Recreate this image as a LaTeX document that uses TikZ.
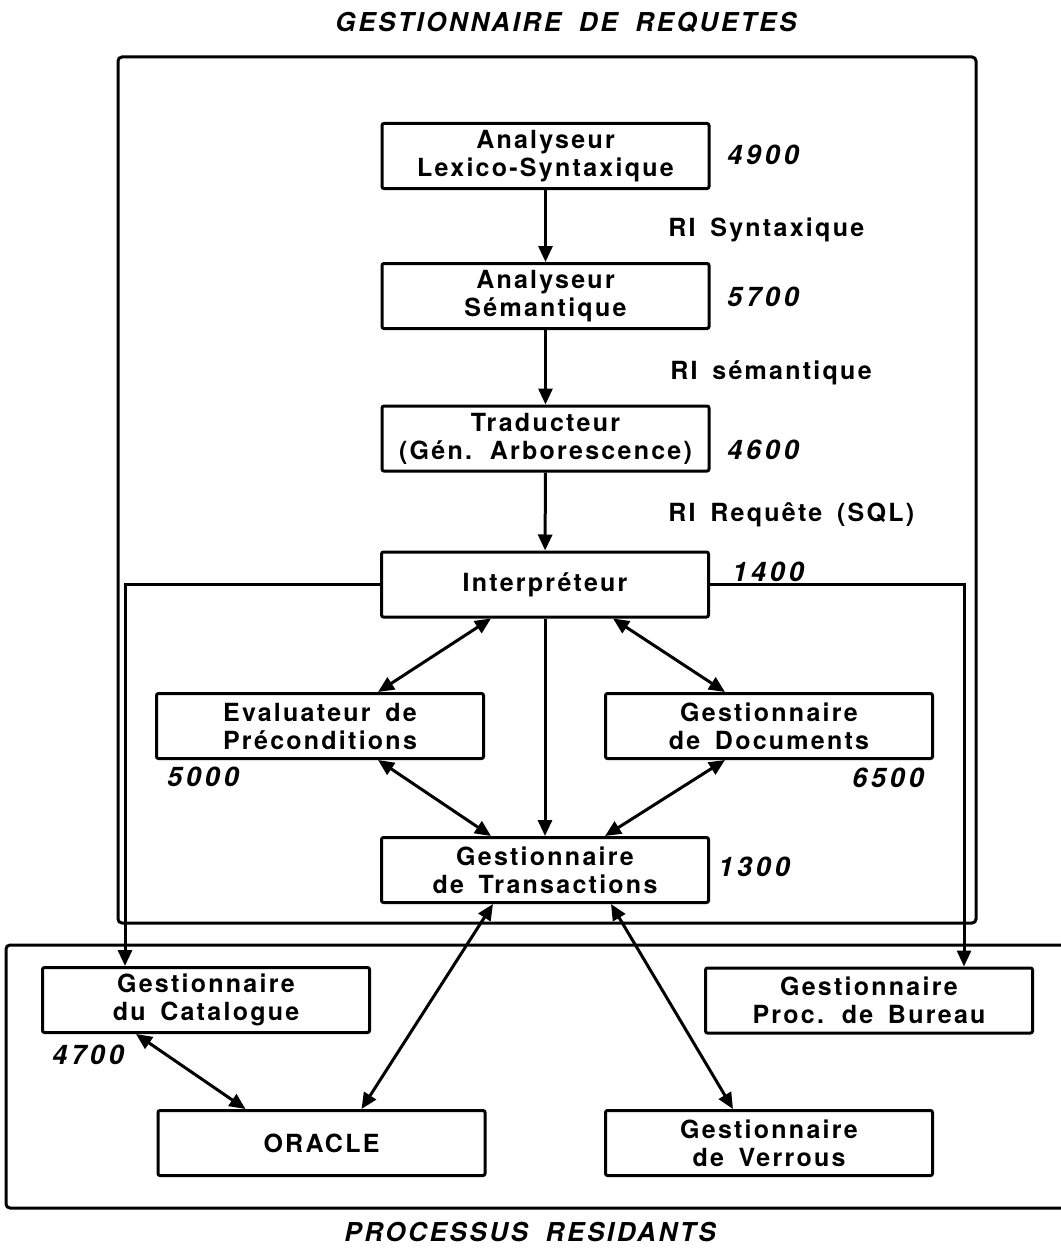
\documentclass[tikz,border=0pt]{standalone}
\usepackage{fontspec}
\setmainfont{TeX Gyre Heros}
\newfontfamily\boxfont[LetterSpace = 9, WordSpace = 1.6]{TeX Gyre Heros}
\newfontfamily\numfont[LetterSpace = 14]{TeX Gyre Heros}
\newfontfamily\headfont[LetterSpace = 10, WordSpace = 1.8]{TeX Gyre Heros}
\usetikzlibrary{arrows.meta}

\begin{document}
\begin{tikzpicture}[
  x = 0.5pt, y = -0.5pt,
  module/.style = {
    shape = rectangle,
    draw = black,
    line width = 1.5pt,
    rounded corners = 1pt,
    minimum width = 163.5pt,
    minimum height = 32.5pt,
    inner sep = 0pt,
    align = center,
    font = \boxfont\fontsize{12.5}{14}\selectfont\bfseries,
  },
  cost/.style = {
    anchor = west,
    inner sep = 0pt,
    font = \numfont\fontsize{13.5}{15}\selectfont\bfseries\itshape,
  },
  flow/.style = {
    anchor = west,
    inner sep = 0pt,
    font = \boxfont\fontsize{12.5}{14}\selectfont\bfseries,
  },
  title/.style = {
    inner sep = 0pt,
    font = \headfont\fontsize{13}{15}\selectfont\bfseries\itshape,
  },
  tip/.style = {-{Triangle[length = 8pt, width = 7pt]}},
  tips/.style = {{Triangle[length = 8pt, width = 7pt]}-{Triangle[length = 8pt, width = 7pt]}}
]
  \useasboundingbox (0, 0) rectangle (1060, 1252);

  % frames
  \draw[line width = 1.5pt, rounded corners = 2pt] (118, 57) rectangle (976, 923);
  \draw[line width = 1.5pt, rounded corners = 2pt]
    (1062, 945) -- (6, 945) -- (6, 1208) -- (1062, 1208);

  \node[title] (tgr) at (566, 22) {GESTIONNAIRE DE REQUETES};
  \node[title] (tpr) at (530, 1232) {PROCESSUS RESIDANTS};

  % modules
  \node[module] (lex) at (545.5, 156) {Analyseur\\Lexico-Syntaxique};
  \node[module] (sem) at (545.5, 296) {Analyseur\\Sémantique};
  \node[module] (trad) at (545.5, 438.5) {Traducteur\\(Gén. Arborescence)};
  \node[module] (interp) at (545, 584.5) {Interpréteur};
  \node[module] (eval) at (320, 726) {Evaluateur de\\Préconditions};
  \node[module] (docs) at (769, 726) {Gestionnaire\\de Documents};
  \node[module] (trans) at (545, 870) {Gestionnaire\\de Transactions};
  \node[module] (cat) at (206, 1000) {Gestionnaire\\du Catalogue};
  \node[module] (bur) at (869, 1000.5) {Gestionnaire\\Proc. de Bureau};
  \node[module] (ora) at (321.5, 1143) {ORACLE};
  \node[module] (verr) at (769, 1143) {Gestionnaire\\de Verrous};

  \node[cost] (c4900) at (727, 155) {4900};
  \node[cost] (c5700) at (727, 297) {5700};
  \node[cost] (c4600) at (727, 450) {4600};
  \node[cost] (c1400) at (732, 572) {1400};
  \node[cost] (c5000) at (167, 777) {5000};
  \node[cost] (c6500) at (852, 778) {6500};
  \node[cost] (c1300) at (718, 867) {1300};
  \node[cost] (c4700) at (52, 1055) {4700};

  \node[flow] (ri1) at (668, 230) {RI Syntaxique};
  \node[flow] (ri2) at (670, 373) {RI sémantique};
  \node[flow] (ri3) at (668, 515) {RI Requête (SQL)};

  \begin{scope}[every path/.style = {line width = 1.5pt}]
    \draw[tip] (lex) -- (sem);
    \draw[tip] (sem) -- (trad);
    \draw[tip] (trad) -- (interp);
    \draw[tip] (interp) -- (trans);

    \draw[tips] ([xshift = -27pt]interp.south) -- ([xshift = 29pt]eval.north);
    \draw[tips] ([xshift = 34pt]interp.south) -- ([xshift = -22pt]docs.north);
    \draw[tips] ([xshift = 29pt]eval.south) -- ([xshift = -27pt]trans.north);
    \draw[tips] ([xshift = -22pt]docs.south) -- ([xshift = 30pt]trans.north);
    \draw[tips] ([xshift = -26pt]trans.south) -- ([xshift = 20pt]ora.north);
    \draw[tips] ([xshift = 33pt]trans.south) -- ([xshift = -18pt]verr.north);
    \draw[tips] ([xshift = -35pt]cat.south) -- ([xshift = -38pt]ora.north);

    \draw[tip] (interp.west) -| ([xshift = -40.5pt]cat.north);
    \draw[tip] (interp.east) -| ([xshift = 47.5pt]bur.north);
  \end{scope}
\end{tikzpicture}
\end{document}
